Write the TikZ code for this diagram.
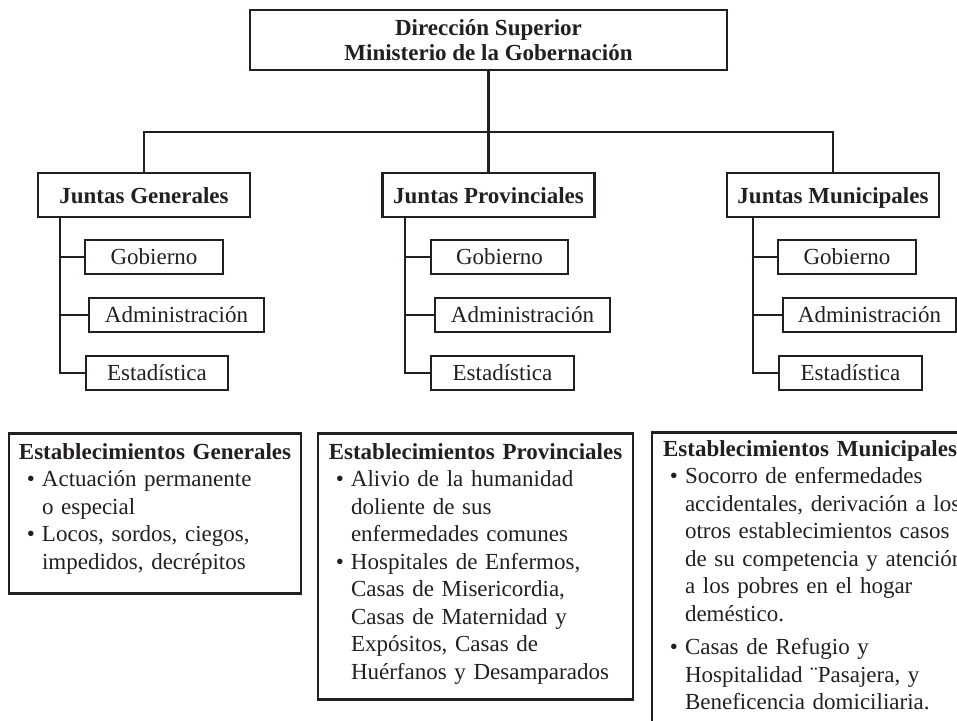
\documentclass[tikz,border=0pt]{standalone}
\usepackage{fontspec}
\setmainfont{Liberation Serif}
\usetikzlibrary{calc}
\definecolor{ink}{HTML}{231F20}
\newcommand{\orgfont}{\fontsize{23}{27.5}\selectfont}
\newcommand{\ehead}[1]{{\centering\bfseries #1\par}}
\newcommand{\eitem}[1]{{\leftskip=33pt\rightskip=0pt plus 1fil\noindent\llap{\textbullet\hspace{7pt}}#1\par}}
\newcommand{\eend}[1]{\vspace{#1}\hrule height 0pt}
\tikzset{
    head/.style =   {rectangle,
                    draw=ink,
                    fill=white,
                    text=ink,
                    line width=2.7pt,
                    inner sep=0pt,
                    align=center,
                    minimum width=477pt,
                    minimum height=60pt,
                    font=\fontsize{23}{25}\selectfont\bfseries},
    junta/.style =  {rectangle,
                    draw=ink,
                    text=ink,
                    line width=2.7pt,
                    inner sep=0pt,
                    text height=16pt,
                    text depth=0pt,
                    minimum width=212pt,
                    minimum height=44pt,
                    font=\orgfont\bfseries},
    area/.style =   {rectangle,
                    draw=ink,
                    text=ink,
                    line width=2.7pt,
                    inner sep=0pt,
                    text height=16pt,
                    text depth=1pt,
                    minimum height=34pt,
                    font=\orgfont},
    estab/.style =  {rectangle,
                    draw=ink,
                    text=ink,
                    line width=2.7pt,
                    anchor=north,
                    inner xsep=0pt,
                    inner ysep=10pt,
                    font=\orgfont},
    link/.style =   {draw=ink,
                    line width=2.7pt}
}
\begin{document}
\begin{tikzpicture}[x=1pt,y=-1pt]
            \useasboundingbox (0,0) rectangle (957,720);
            \clip (0,0) rectangle (957,720);

            \node[head]     (dir) at (488.5,40)     {Dirección Superior\\Ministerio de la Gobernación};

            \node[junta]    (jg) at (144,195)       {Juntas Generales};
            \node[junta]    (jp) at (488.5,195)     {Juntas Provinciales};
            \node[junta]    (jm) at (833,195)       {Juntas Municipales};

            \node[area,minimum width=138pt]  (gob1) at (154,257)     {Gobierno};
            \node[area,minimum width=175pt]  (adm1) at (176.5,315)   {Administración};
            \node[area,minimum width=142pt]  (est1) at (157,373)     {Estadística};

            \node[area,minimum width=137pt]  (gob2) at (499.5,257)   {Gobierno};
            \node[area,minimum width=175pt]  (adm2) at (522.5,315)   {Administración};
            \node[area,minimum width=143pt]  (est2) at (502.5,373)   {Estadística};

            \node[area,minimum width=138pt]  (gob3) at (847,257)     {Gobierno};
            \node[area,minimum width=173pt]  (adm3) at (869.5,315)   {Administración};
            \node[area,minimum width=143pt]  (est3) at (850.5,373)   {Estadística};

            \node[estab,text width=292pt] (eg) at (155,432) {%
                \ehead{Establecimientos Generales}%
                \eitem{Actuación permanente\\o especial}%
                \eitem{Locos, sordos, ciegos,\\impedidos, decrépitos}%
                \eend{9pt}};
            \node[estab,text width=315pt] (ep) at (475.5,432) {%
                \ehead{Establecimientos Provinciales}%
                \eitem{Alivio de la humanidad\\doliente de sus\\enfermedades comunes}%
                \eitem{Hospitales de Enfermos,\\Casas de Misericordia,\\Casas de Maternidad y\\Expósitos, Casas de\\Huérfanos y Desamparados}%
                \eend{5pt}};
            \node[estab,text width=316pt,inner ysep=8pt] (em) at (810,431) {%
                \ehead{Establecimientos Municipales}%
                \eitem{Socorro de enfermedades\\accidentales, derivación a los\\otros establecimientos casos\\de su competencia y atención\\a los pobres en el hogar\\deméstico.}%
                \vspace{6pt}%
                \eitem{Casas de Refugio y\\Hospitalidad ¨Pasajera, y\\Beneficencia domiciliaria.}%
                \eend{60pt}};

            \coordinate (bus) at (488.5,132);
            \coordinate (tg) at ([xshift=-84pt]jg.south);
            \coordinate (tp) at ([xshift=-83.5pt]jp.south);
            \coordinate (tm) at ([xshift=-80pt]jm.south);

            \draw[link]  (dir) -- (jp);
            \draw[link]  (jg.north) |- (bus) -| (jm.north);

            \draw[link]  (tg) |- (gob1);
            \draw[link]  (tg) |- (adm1);
            \draw[link]  (tg) |- (est1);
            \draw[link]  (tp) |- (gob2);
            \draw[link]  (tp) |- (adm2);
            \draw[link]  (tp) |- (est2);
            \draw[link]  (tm) |- (gob3);
            \draw[link]  (tm) |- (adm3);
            \draw[link]  (tm) |- (est3);
        \end{tikzpicture}
\end{document}
